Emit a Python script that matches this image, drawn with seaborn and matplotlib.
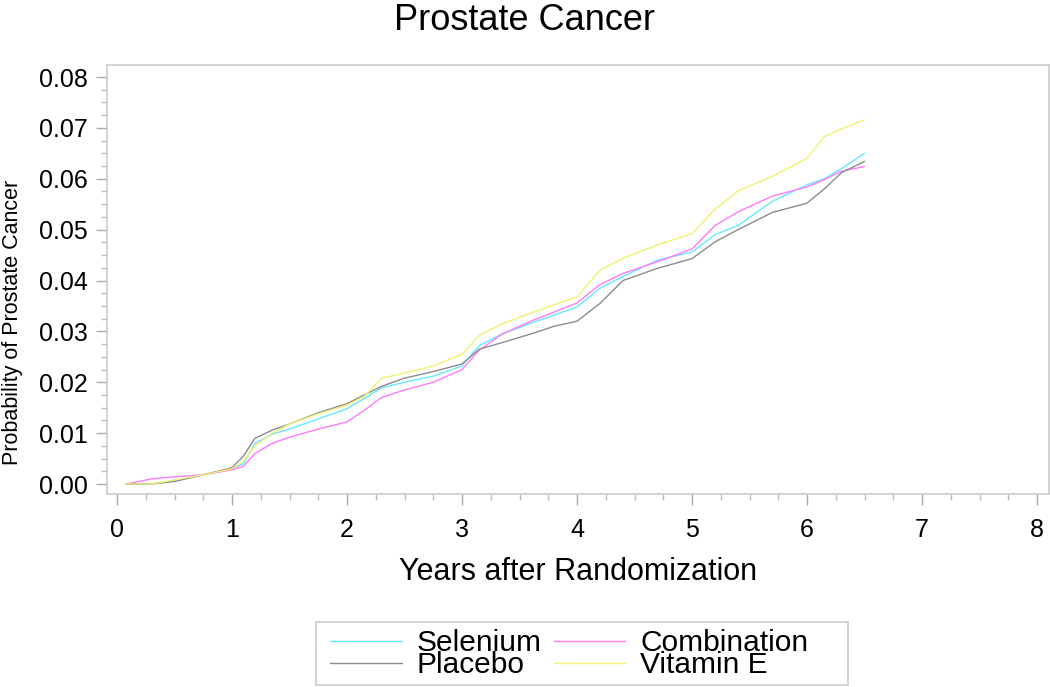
import matplotlib
matplotlib.use("Agg")
import matplotlib.pyplot as plt
import pandas as pd
import numpy as np
import seaborn as sns
from matplotlib.ticker import MultipleLocator, FormatStrFormatter
from matplotlib.patches import Rectangle

# Years after randomization
years = [0.08, 0.3, 0.5, 0.75, 1.0, 1.1, 1.2, 1.35, 1.5, 1.75, 2.0, 2.15, 2.3, 2.5,
         2.75, 3.0, 3.15, 3.35, 3.6, 3.8, 4.0, 4.2, 4.4, 4.7, 5.0, 5.2, 5.4, 5.7,
         6.0, 6.15, 6.3, 6.5]

selenium = [0.0, 0.0, 0.0006, 0.0018, 0.0030, 0.0040, 0.0080, 0.0098, 0.0108, 0.0128,
            0.0148, 0.0168, 0.0189, 0.0200, 0.0212, 0.0232, 0.0272, 0.0295, 0.0316,
            0.0332, 0.0348, 0.0385, 0.0408, 0.0440, 0.0456, 0.0490, 0.0508, 0.0556,
            0.0588, 0.0600, 0.0620, 0.0650]
combination = [0.0, 0.0010, 0.0014, 0.0018, 0.0028, 0.0035, 0.0060, 0.0080, 0.0092,
               0.0108, 0.0122, 0.0145, 0.0170, 0.0185, 0.0200, 0.0225, 0.0263, 0.0295,
               0.0320, 0.0338, 0.0356, 0.0392, 0.0414, 0.0437, 0.0462, 0.0508, 0.0535,
               0.0566, 0.0584, 0.0598, 0.0615, 0.0624]
placebo = [0.0, 0.0, 0.0005, 0.0018, 0.0032, 0.0055, 0.0090, 0.0106, 0.0118, 0.0140,
           0.0158, 0.0175, 0.0192, 0.0208, 0.0221, 0.0236, 0.0265, 0.0278, 0.0295,
           0.0310, 0.0320, 0.0355, 0.0400, 0.0424, 0.0443, 0.0476, 0.0500, 0.0534,
           0.0552, 0.0580, 0.0612, 0.0634]
vitamin_e = [0.0, 0.0, 0.0008, 0.0018, 0.0030, 0.0045, 0.0075, 0.0100, 0.0118, 0.0138,
             0.0155, 0.0172, 0.0208, 0.0218, 0.0232, 0.0255, 0.0292, 0.0315, 0.0336,
             0.0352, 0.0368, 0.0420, 0.0444, 0.0470, 0.0492, 0.0540, 0.0576, 0.0605,
             0.0640, 0.0683, 0.0698, 0.0716]

groups = ["Selenium", "Combination", "Placebo", "Vitamin E"]
series = [selenium, combination, placebo, vitamin_e]
colors = {"Selenium": "#66e8ff", "Combination": "#ff7aff",
          "Placebo": "#8c8c8c", "Vitamin E": "#f2f270"}

df = pd.concat([pd.DataFrame({"year": years, "prob": s, "group": g})
                for g, s in zip(groups, series)], ignore_index=True)

sns.set_style("white")
plt.rcParams['font.family'] = ['Liberation Sans', 'DejaVu Sans']
plt.rcParams['text.color'] = 'black'
plt.rcParams['axes.labelcolor'] = 'black'

fig = plt.figure(figsize=(10.5, 6.87), dpi=100)
ax = fig.add_axes([107/1050, 1 - 494/687, 942/1050, 429/687])

sns.lineplot(data=df, x="year", y="prob", hue="group", palette=colors,
             estimator=None, errorbar=None, sort=False, linewidth=1.0,
             ax=ax, legend=False)

ax.set_xlim(-10/115, 932/115)
ax.set_ylim(-10/5087, 419/5087)
ax.xaxis.set_major_locator(MultipleLocator(1))
ax.xaxis.set_minor_locator(MultipleLocator(0.25))
ax.yaxis.set_major_locator(MultipleLocator(0.01))
ax.yaxis.set_minor_locator(MultipleLocator(0.0025))
ax.yaxis.set_major_formatter(FormatStrFormatter('%.2f'))

ax.tick_params(which='major', length=8, width=1, color='#aaaaaa',
               labelsize=18, labelcolor='black')
ax.tick_params(which='minor', length=4, width=1, color='#bbbbbb')
ax.tick_params(axis='x', which='both', bottom=True, direction='out', pad=9)
ax.tick_params(axis='y', which='both', left=True, direction='out', pad=6)

for sp in ax.spines.values():
    sp.set_color('#cccccc')
    sp.set_linewidth(1.2)

ax.set_xlabel("Years after Randomization", fontsize=22)
ax.xaxis.set_label_coords(0.5, -0.147)
ax.set_ylabel("Probability of Prostate Cancer", fontsize=15.5)
ax.yaxis.set_label_coords(-0.089, 0.40)

fig.text(0.5, 1 - 20/687, "Prostate Cancer", fontsize=26, ha='center', va='center')

# legend filled column-wise: Selenium/Placebo, Combination/Vitamin E
order = ["Selenium", "Placebo", "Combination", "Vitamin E"]
handles = [plt.Line2D([], [], color=colors[g], linewidth=1.0) for g in order]
leg = fig.legend(handles, order, ncol=2, loc='center left',
                 bbox_to_anchor=(330/1050, 1 - 654/687), fontsize=21.5,
                 frameon=False, handlelength=2.4, handletextpad=0.5,
                 columnspacing=0.4, labelspacing=-0.2, borderpad=0.0,
                 borderaxespad=0.0)

fig.patches.append(Rectangle((316/1050, 1 - 685/687), 532/1050, 63/687,
                             transform=fig.transFigure, fill=False,
                             edgecolor='#cccccc', linewidth=1.2))

fig.savefig("out.png", dpi=100)
